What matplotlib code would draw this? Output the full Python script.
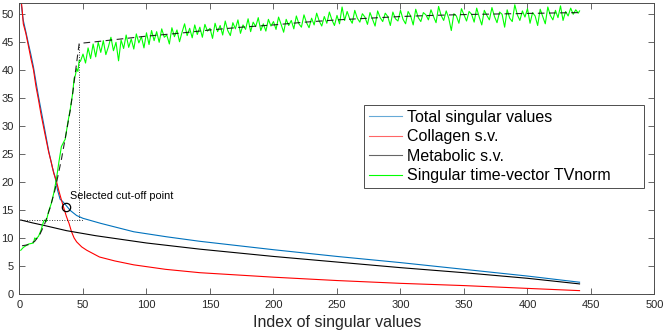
import matplotlib
matplotlib.use("Agg")
import matplotlib.pyplot as plt

plt.rcParams['font.family'] = ['Liberation Sans', 'DejaVu Sans']

# singular values
total_idx = [1, 2, 3, 5, 7, 9, 11, 13, 15, 17, 20, 23, 26, 28, 30, 32, 34, 36, 40, 45, 50, 64, 90, 116, 142, 200, 250, 300, 350, 400, 441]
total_sv = [52.5, 50.5, 48.8, 46.8, 44.7, 42.7, 40.5, 37.8, 35.2, 32.8, 29.2, 25.5, 22.5, 20.9, 18.5, 16.9, 16.5, 16.0, 14.9, 14.0, 13.5, 12.6, 11.1, 10.2, 9.4, 7.9, 6.7, 5.6, 4.4, 3.2, 2.1]

coll_idx = [1, 2, 3, 5, 7, 9, 11, 13, 15, 17, 20, 23, 25, 27, 29, 31, 34, 37, 39, 41, 43, 45, 49, 53, 63, 75, 90, 115, 142, 200, 250, 300, 350, 400, 441]
coll_sv = [53.0, 51.0, 48.2, 46.5, 44.3, 42.0, 40.0, 37.0, 34.6, 32.0, 28.6, 25.3, 23.5, 21.5, 20.2, 18.4, 16.0, 13.8, 12.6, 11.1, 10.0, 9.3, 8.4, 7.8, 6.6, 5.9, 5.2, 4.4, 3.8, 3.0, 2.4, 1.9, 1.5, 1.0, 0.6]

metab_idx = [1, 10, 20, 37, 60, 100, 142, 200, 250, 300, 350, 400, 441]
metab_sv = [13.2, 12.7, 12.2, 11.3, 10.4, 9.1, 8.0, 6.7, 5.7, 4.7, 3.8, 2.8, 1.8]

# TVnorm of singular time-vectors
tv_idx_low = [1, 3, 5, 7, 9, 11, 12, 13, 15, 17, 19, 20, 21, 23, 25, 27, 29, 31, 33, 35, 36, 38, 40, 42, 43, 44, 45, 46, 47]
tv_low = [7.8, 8.3, 8.6, 8.9, 9.0, 9.1, 10.0, 9.8, 10.3, 11.4, 13.0, 13.2, 12.9, 14.8, 16.1, 18.0, 20.4, 23.5, 26.3, 27.2, 27.6, 30.5, 33.0, 36.0, 38.5, 39.0, 40.2, 39.7, 41.7]
tv_high = [
    41.5, 42.8, 41.2, 43.9, 42.0, 44.6, 42.3, 44.9, 43.1, 45.2, 42.7, 44.1, 45.8, 43.4, 44.9, 41.6, 45.3, 43.8, 46.2, 44.0,
    45.5, 43.7, 46.4, 44.8, 45.9, 43.9, 46.6, 44.5, 47.0, 45.2, 46.8, 44.9, 47.3, 45.8, 46.2, 44.6, 47.5, 45.9, 47.1, 45.0,
    46.7, 48.2, 46.1, 47.4, 45.7, 48.0, 46.3, 47.6, 45.8, 48.1, 46.9, 47.4, 45.6, 48.3, 46.8, 47.9, 46.2, 48.7, 47.0, 46.1,
    48.4, 47.3, 48.9, 46.5, 48.0, 47.2, 49.1, 46.8, 48.5, 47.7, 49.3, 47.0, 48.2, 46.9, 49.0, 47.8, 48.6, 47.2, 49.4, 48.1,
    46.7, 49.0, 47.9, 48.8, 47.3, 49.6, 48.2, 47.6, 49.8, 48.4, 47.5, 49.2, 48.0, 50.1, 48.7, 47.8, 49.5, 48.3, 50.3, 48.9,
    47.9, 49.7, 48.2, 51.2, 48.8, 50.4, 49.1, 48.3, 50.6, 49.2, 48.5, 50.0, 49.4, 48.1, 50.2, 49.0, 47.8, 50.5, 49.3, 48.6,
    50.1, 49.5, 47.9, 50.3, 49.1, 48.7, 50.6, 49.0, 48.2, 50.4, 49.6, 48.0, 50.8, 49.3, 48.6, 50.2, 49.8, 48.9, 50.7, 49.5,
    48.4, 51.3, 49.7, 48.8, 50.5, 49.2, 47.0, 50.0, 49.6, 48.3, 50.9, 49.8, 48.7, 50.4, 49.9, 48.5, 51.0, 49.4, 48.0, 50.6,
    49.7, 48.9, 51.1, 49.5, 48.4, 50.3, 49.9, 47.6, 50.7, 49.2, 48.6, 51.6, 49.8, 48.8, 50.5, 49.4, 50.9, 48.3, 50.2, 49.6,
    47.9, 50.8, 49.5, 48.2, 51.2, 49.7, 48.9, 50.6, 49.3, 51.4, 48.8, 50.4, 49.6, 51.0, 49.9, 50.7, 50.1, 50.5]
tv_idx_high = list(range(48, 441, 2)) + [441]

# fitted curve (dashed)
fit_idx = [2, 7, 12, 16, 20, 24, 28, 33, 37, 40, 42, 44, 46, 47, 60, 80, 100, 125, 150, 175, 200, 225, 250, 275, 300, 325, 350, 375, 400, 425, 441]
fit_val = [8.6, 8.8, 9.4, 10.6, 12.6, 15.3, 18.6, 24.0, 29.0, 32.8, 36.0, 39.5, 43.0, 44.7, 45.0, 45.5, 46.0, 46.5, 47.1, 47.6, 48.0, 48.5, 48.9, 49.2, 49.5, 49.7, 49.85, 49.95, 50.05, 50.15, 50.2]

cut_idx = 47
cut_level = 13.2
sel_idx = 37
sel_val = 15.6

fig = plt.figure(figsize=(6.65, 3.35), dpi=100)
ax = fig.add_axes([0.0293, 0.1224, 0.9549, 0.8701])

ax.plot(total_idx, total_sv, color='#0072BD', lw=0.8, label='Total singular values')
ax.plot(coll_idx, coll_sv, color='#FF0000', lw=0.8, label='Collagen s.v.')
ax.plot(metab_idx, metab_sv, color='black', lw=0.8, label='Metabolic s.v.')
ax.plot(tv_idx_low + tv_idx_high, tv_low + tv_high, color='#00FF00', lw=0.8,
        label='Singular time-vector TVnorm')
ax.plot(fit_idx, fit_val, color='black', lw=0.8, ls=(0, (6, 4)), alpha=0.85)

# cut-off guides
ax.plot([0, 50], [cut_level, cut_level], color='black', lw=0.6, ls=(0, (1, 2)))
ax.plot([cut_idx, cut_idx], [cut_level, 44.7], color='black', lw=0.6, ls=(0, (1, 2)))
ax.plot([sel_idx], [sel_val], 'o', mfc='none', mec='black', ms=6, mew=0.9)
ax.text(39.5, 17.5, 'Selected cut-off point', fontsize=7.8, va='center', ha='left')

ax.set_xlim(0, 500)
ax.set_ylim(0, 52)
ax.set_xticks(range(0, 501, 50))
ax.set_yticks(range(0, 51, 5))
ax.tick_params(direction='in', top=True, right=True, length=4, width=0.6,
               color='#4d4d4d', labelcolor='#262626', labelsize=8, pad=4)
for s in ax.spines.values():
    s.set_color('#4d4d4d')
    s.set_linewidth(0.7)
ax.set_xlabel('Index of singular values', fontsize=11.5, color='#262626', labelpad=4)

leg = ax.legend(loc='upper left', bbox_to_anchor=(0.5425, 0.648, 0.441, 0.0), mode='expand',
                borderaxespad=0, fontsize=11.5, fancybox=False, edgecolor='#4d4d4d', framealpha=1,
                handlelength=2.1, handletextpad=0.3, labelspacing=0.28, borderpad=0.3)
leg.get_frame().set_linewidth(0.7)
for h in leg.get_lines()[:3]:
    h.set_alpha(0.6)

fig.savefig('out.png', dpi=100)
